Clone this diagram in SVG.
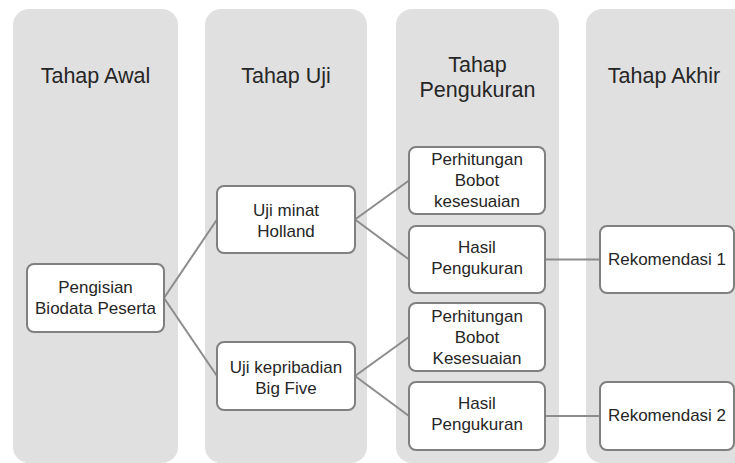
<svg xmlns="http://www.w3.org/2000/svg" width="735" height="463" viewBox="0 0 735 463">
  <style>
    .lane { fill: #e0e0e0; }
    .head { font-family: "Liberation Sans", Arial, sans-serif; font-size: 21.5px; fill: #262626; text-anchor: middle; }
    .box { fill: #ffffff; stroke: #808080; stroke-width: 2; }
    .lbl { font-family: "Liberation Sans", Arial, sans-serif; font-size: 17px; fill: #262626; text-anchor: middle; }
    .link { stroke: #8c8c8c; stroke-width: 2; fill: none; }
  </style>

  <!-- stage lanes -->
  <g id="lanes">
    <rect class="lane" x="13" y="9" width="165" height="454" rx="16"/>
    <rect class="lane" x="205" y="9" width="162" height="454" rx="16"/>
    <rect class="lane" x="396" y="9" width="163" height="454" rx="16"/>
    <rect class="lane" x="586" y="9" width="170" height="454" rx="16"/>
    <text class="head" x="95.5" y="83">Tahap Awal</text>
    <text class="head" x="286" y="83">Tahap Uji</text>
    <text class="head" x="477.5" y="72">Tahap</text>
    <text class="head" x="477.5" y="97">Pengukuran</text>
    <text class="head" x="664" y="83">Tahap Akhir</text>
  </g>

  <!-- connectors -->
  <g id="connectors">
    <line class="link" x1="164" y1="298" x2="217" y2="219.5"/>
    <line class="link" x1="164" y1="298" x2="217" y2="376"/>
    <line class="link" x1="355" y1="219.5" x2="409" y2="180.5"/>
    <line class="link" x1="355" y1="219.5" x2="409" y2="259.5"/>
    <line class="link" x1="355" y1="376" x2="409" y2="337"/>
    <line class="link" x1="355" y1="376" x2="409" y2="416"/>
    <line class="link" x1="545" y1="259.5" x2="600" y2="259.5"/>
    <line class="link" x1="545" y1="416" x2="600" y2="416"/>
  </g>

  <g id="pengisian">
    <rect class="box" x="27" y="264" width="137" height="68" rx="7"/>
    <text class="lbl" x="95.5" y="293">Pengisian</text>
    <text class="lbl" x="95.5" y="314">Biodata Peserta</text>
  </g>

  <g id="uji-holland">
    <rect class="box" x="217" y="186" width="138" height="67" rx="7"/>
    <text class="lbl" x="286" y="216">Uji minat</text>
    <text class="lbl" x="286" y="237">Holland</text>
  </g>

  <g id="uji-bigfive">
    <rect class="box" x="217" y="342" width="138" height="68" rx="7"/>
    <text class="lbl" x="286" y="373">Uji kepribadian</text>
    <text class="lbl" x="286" y="394">Big Five</text>
  </g>

  <g id="bobot-1">
    <rect class="box" x="409" y="147" width="136" height="67" rx="7"/>
    <text class="lbl" x="477" y="165">Perhitungan</text>
    <text class="lbl" x="477" y="186">Bobot</text>
    <text class="lbl" x="477" y="207">kesesuaian</text>
  </g>

  <g id="hasil-1">
    <rect class="box" x="409" y="226" width="136" height="67" rx="7"/>
    <text class="lbl" x="477" y="253">Hasil</text>
    <text class="lbl" x="477" y="274">Pengukuran</text>
  </g>

  <g id="bobot-2">
    <rect class="box" x="409" y="303" width="136" height="68" rx="7"/>
    <text class="lbl" x="477" y="322">Perhitungan</text>
    <text class="lbl" x="477" y="343">Bobot</text>
    <text class="lbl" x="477" y="364">Kesesuaian</text>
  </g>

  <g id="hasil-2">
    <rect class="box" x="409" y="382" width="136" height="68" rx="7"/>
    <text class="lbl" x="477" y="409">Hasil</text>
    <text class="lbl" x="477" y="430">Pengukuran</text>
  </g>

  <g id="rekomendasi-1">
    <rect class="box" x="600" y="226" width="134" height="67" rx="7"/>
    <text class="lbl" x="667" y="265">Rekomendasi 1</text>
  </g>

  <g id="rekomendasi-2">
    <rect class="box" x="600" y="382" width="134" height="68" rx="7"/>
    <text class="lbl" x="667" y="421">Rekomendasi 2</text>
  </g>
</svg>
